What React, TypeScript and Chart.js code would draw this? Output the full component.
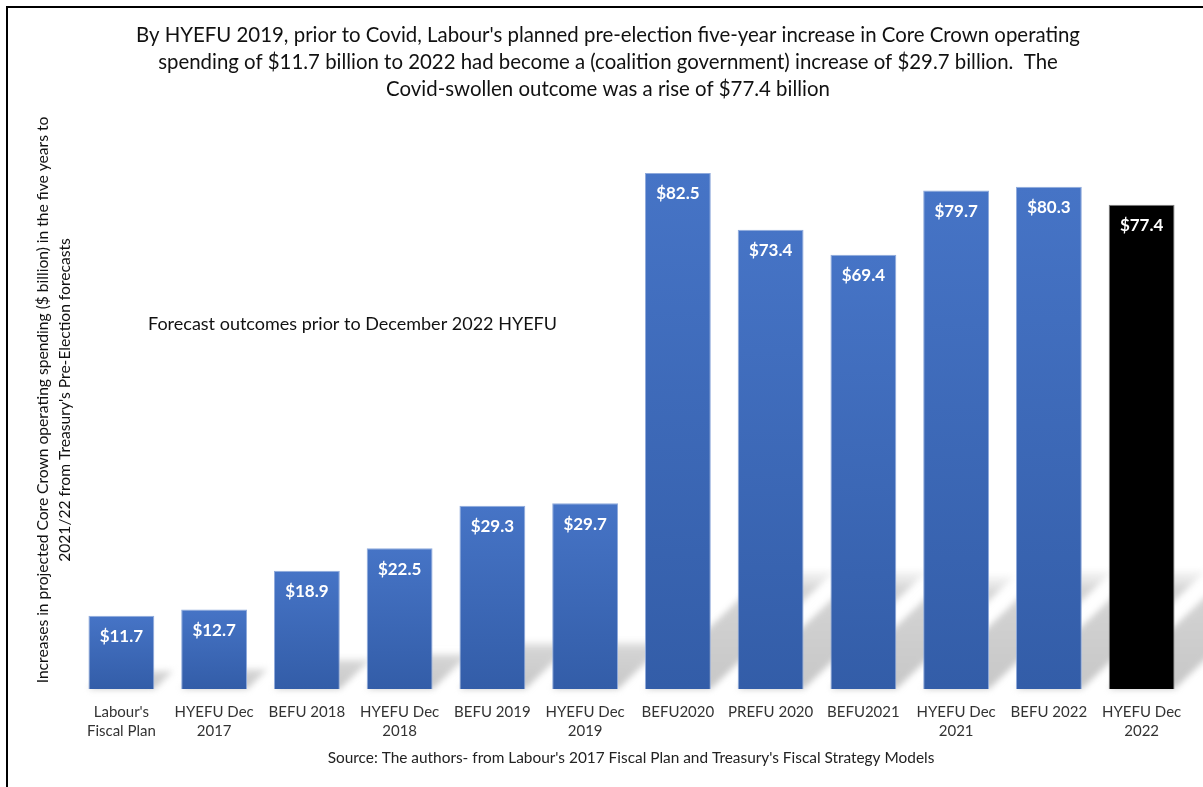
import React, { useEffect, useRef } from "react";
import { Chart, registerables } from "chart.js";

Chart.register(...registerables);

const categories: string[][] = [
  ["Labour's", "Fiscal Plan"],
  ["HYEFU Dec", "2017"],
  ["BEFU 2018"],
  ["HYEFU Dec", "2018"],
  ["BEFU 2019"],
  ["HYEFU Dec", "2019"],
  ["BEFU2020"],
  ["PREFU 2020"],
  ["BEFU2021"],
  ["HYEFU Dec", "2021"],
  ["BEFU 2022"],
  ["HYEFU Dec", "2022"],
];
const values: number[] = [11.7, 12.7, 18.9, 22.5, 29.3, 29.7, 82.5, 73.4, 69.4, 79.7, 80.3, 77.4];

const titleLines: string[] = [
  "By HYEFU 2019, prior to Covid, Labour's planned pre-election five-year increase in Core Crown operating",
  "spending of $11.7 billion to 2022 had become a (coalition government) increase of $29.7 billion.  The",
  "Covid-swollen outcome was a rise of $77.4 billion",
];
const yTitleLines: string[] = [
  "Increases in projected Core Crown operating spending ($ billion) in the five years to",
  "2021/22 from Treasury's Pre-Election forecasts",
];
const sourceText = "Source: The authors- from Labour's 2017 Fiscal Plan and Treasury's Fiscal Strategy Models";
const annotationText = "Forecast outcomes prior to December 2022 HYEFU";

const FONT = "Lato, 'Open Sans', sans-serif";

const decorPlugin = {
  id: "decor",
  beforeDraw(chart: any) {
    const ctx = chart.ctx;
    ctx.save();
    ctx.fillStyle = "#ffffff";
    ctx.fillRect(0, 0, chart.width, chart.height);
    // frame
    ctx.strokeStyle = "#000000";
    ctx.lineWidth = 2;
    ctx.beginPath();
    ctx.moveTo(7, chart.height);
    ctx.lineTo(7, 7);
    ctx.lineTo(chart.width, 7);
    ctx.stroke();
    // title
    ctx.fillStyle = "#111111";
    ctx.font = `20.4px ${FONT}`;
    ctx.textAlign = "center";
    ctx.textBaseline = "middle";
    titleLines.forEach((l, i) => ctx.fillText(l, 608, 35 + i * 27));
    // y title
    ctx.save();
    ctx.translate(0, 400);
    ctx.rotate(-Math.PI / 2);
    ctx.font = `15.6px ${FONT}`;
    ctx.fillStyle = "#111111";
    yTitleLines.forEach((l, i) => ctx.fillText(l, 0, 43 + i * 22));
    ctx.restore();
    // annotation
    ctx.font = `18px ${FONT}`;
    ctx.textAlign = "left";
    ctx.fillStyle = "#111111";
    ctx.fillText(annotationText, 148, 324);
    // source
    ctx.font = `15.4px ${FONT}`;
    ctx.textAlign = "center";
    ctx.fillStyle = "#222222";
    ctx.fillText(sourceText, 631, 758);
    ctx.restore();
  },
  beforeDatasetsDraw(chart: any) {
    const ctx = chart.ctx;
    const meta = chart.getDatasetMeta(0);
    ctx.save();
    ctx.filter = "blur(3px)";
    meta.data.forEach((el: any) => {
      const h = Math.abs(el.base - el.y);
      const H = Math.min(h * 0.26, 118);
      const dx = H * 1.05;
      const left = el.x - el.width / 2;
      const right = el.x + el.width / 2;
      const g = ctx.createLinearGradient(0, el.base, 0, el.base - H);
      g.addColorStop(0, "rgba(175,175,175,0.7)");
      g.addColorStop(0.85, "rgba(190,190,190,0.65)");
      g.addColorStop(1, "rgba(210,210,210,0.2)");
      ctx.fillStyle = g;
      ctx.beginPath();
      ctx.moveTo(left, el.base);
      ctx.lineTo(right, el.base);
      ctx.lineTo(right + dx, el.base - H);
      ctx.lineTo(left + dx, el.base - H);
      ctx.closePath();
      ctx.fill();
    });
    ctx.restore();
  },
  afterDatasetsDraw(chart: any) {
    const ctx = chart.ctx;
    const meta = chart.getDatasetMeta(0);
    ctx.save();
    ctx.fillStyle = "#ffffff";
    ctx.font = `bold 17px ${FONT}`;
    ctx.textAlign = "center";
    ctx.textBaseline = "middle";
    meta.data.forEach((el: any, i: number) => {
      ctx.fillText(`$${values[i].toFixed(1)}`, el.x, el.y + 21);
    });
    ctx.restore();
  },
};

export default function App() {
  const ref = useRef<HTMLCanvasElement>(null);
  useEffect(() => {
    if (!ref.current) return;
    const chart = new Chart(ref.current, {
      type: "bar",
      data: {
        labels: categories,
        datasets: [
          {
            data: values,
            backgroundColor: (c: any) => {
              const chartObj = c.chart;
              const i = c.dataIndex;
              if (i === values.length - 1) return "#000000";
              const ys = chartObj.scales?.y;
              if (!chartObj.chartArea || !ys || i === undefined) return "#4472C4";
              const top = ys.getPixelForValue(values[i]);
              const base = ys.getPixelForValue(0);
              const g = chartObj.ctx.createLinearGradient(0, top, 0, base);
              g.addColorStop(0, "#4674C6");
              g.addColorStop(1, "#335DA8");
              return g;
            },
            borderColor: values.map((_, i) => (i === values.length - 1 ? "#7f7f7f" : "#8faadc")),
            borderWidth: 1,
            categoryPercentage: 1,
            barPercentage: 0.71,
          },
        ],
      },
      options: {
        animation: false,
        responsive: false,
        maintainAspectRatio: false,
        layout: { padding: { left: 75, right: 15, top: 126, bottom: 33 } },
        plugins: { legend: { display: false }, tooltip: { enabled: false }, title: { display: false } },
        scales: {
          y: { display: false, min: 0, max: 90 },
          x: {
            grid: { display: false, drawTicks: false },
            border: { display: false },
            ticks: {
              color: "#333333",
              padding: 13,
              maxRotation: 0,
              autoSkip: false,
              font: { family: FONT, size: 15, lineHeight: 1.3 },
            },
          },
        },
      },
      plugins: [decorPlugin],
    });
    return () => chart.destroy();
  }, []);
  return (
    <div style={{ position: "fixed", left: 0, top: 0, width: 1203, height: 787, background: "#fff" }}>
      <canvas ref={ref} width={1203} height={787} style={{ width: 1203, height: 787 }} />
    </div>
  );
}
